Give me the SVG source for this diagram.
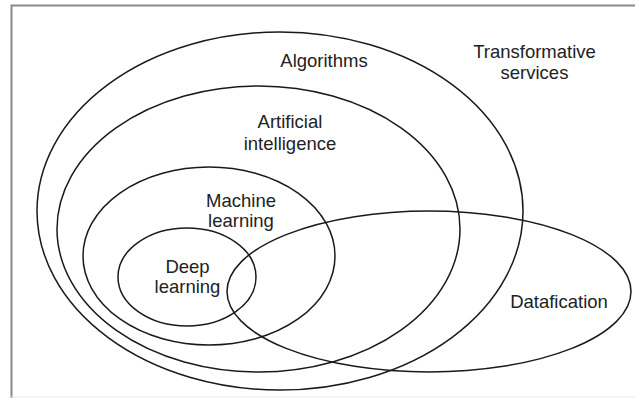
<svg xmlns="http://www.w3.org/2000/svg" width="635" height="398" viewBox="0 0 635 398">
<style>
.set{fill:none;stroke:#1a1a1a;stroke-width:1.5}
.lbl{font-family:"Liberation Sans",Arial,sans-serif;font-size:18.5px;fill:#222;text-anchor:middle}
</style>
<rect x="0" y="0" width="635" height="398" fill="#fff"/>
<path d="M11.5,398 V5.5 H635" fill="none" stroke="#8a8a8a" stroke-width="2"/>
<line x1="11" y1="397" x2="635" y2="397" stroke="#e8e8e8" stroke-width="1"/>
<g id="algorithms">
<ellipse class="set" cx="280" cy="211" rx="243" ry="179"/>
<text class="lbl" x="324" y="67">Algorithms</text>
</g>
<g id="ai">
<ellipse class="set" cx="258.5" cy="229" rx="201.5" ry="143"/>
<text class="lbl" x="290" y="128">Artificial</text>
<text class="lbl" x="290" y="150">intelligence</text>
</g>
<g id="ml">
<ellipse class="set" cx="209" cy="256" rx="126" ry="89"/>
<text class="lbl" x="241" y="207">Machine</text>
<text class="lbl" x="241" y="227">learning</text>
</g>
<g id="dl">
<ellipse class="set" cx="187" cy="277" rx="69" ry="49"/>
<text class="lbl" x="187.5" y="273">Deep</text>
<text class="lbl" x="187.5" y="293">learning</text>
</g>
<g id="datafication">
<ellipse class="set" cx="429" cy="291.5" rx="202" ry="80.5"/>
<text class="lbl" x="559" y="308">Datafication</text>
</g>
<g id="transformative">
<text class="lbl" x="534.5" y="58">Transformative</text>
<text class="lbl" x="534.5" y="79">services</text>
</g>
<g id="connectors"></g>
</svg>
